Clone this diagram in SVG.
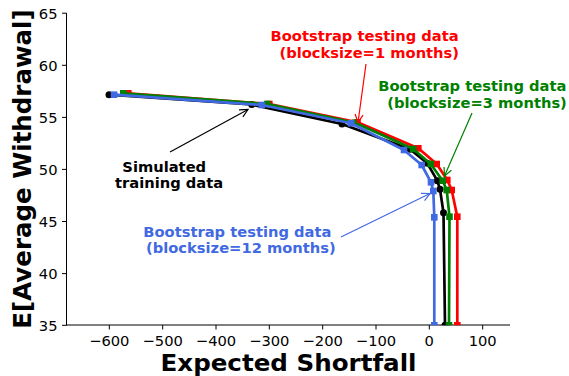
<svg xmlns="http://www.w3.org/2000/svg" width="569" height="376" viewBox="0 0 569 376">
<style>
text{font-family:"DejaVu Sans","Liberation Sans",sans-serif}
.tick{font-size:14.7px;fill:#000}
.lab{font-size:24.5px;font-weight:bold;fill:#000}
.ann{font-size:14.7px;font-weight:bold}
.ln{fill:none;stroke-width:2.7;stroke-linejoin:round}
.tk{stroke:#000;stroke-width:1}
.ar{fill:none;stroke-width:1.2}
</style>
<defs>
<clipPath id="plot"><rect x="66.5" y="13" width="444" height="312.3"/></clipPath>
<marker id="ahk" markerUnits="userSpaceOnUse" markerWidth="20" markerHeight="20" viewBox="-10 -10 20 20" refX="0" refY="0" orient="auto"><path d="M-8,-4 L0,0 L-8,4" fill="none" stroke="#000" stroke-width="1.2"/></marker>
<marker id="ahr" markerUnits="userSpaceOnUse" markerWidth="20" markerHeight="20" viewBox="-10 -10 20 20" refX="0" refY="0" orient="auto"><path d="M-8,-4 L0,0 L-8,4" fill="none" stroke="#ff0000" stroke-width="1.2"/></marker>
<marker id="ahg" markerUnits="userSpaceOnUse" markerWidth="20" markerHeight="20" viewBox="-10 -10 20 20" refX="0" refY="0" orient="auto"><path d="M-8,-4 L0,0 L-8,4" fill="none" stroke="#008000" stroke-width="1.2"/></marker>
<marker id="ahb" markerUnits="userSpaceOnUse" markerWidth="20" markerHeight="20" viewBox="-10 -10 20 20" refX="0" refY="0" orient="auto"><path d="M-8,-4 L0,0 L-8,4" fill="none" stroke="#4169e1" stroke-width="1.2"/></marker>
<rect id="sq" x="-3.3" y="-3.3" width="6.6" height="6.6"/>
</defs>
<rect width="569" height="376" fill="#fff"/>
<g id="axes">
<line class="tk" x1="66.5" y1="13" x2="66.5" y2="325.3"/>
<line class="tk" x1="66" y1="325" x2="510" y2="325"/>
<g class="tk">
<line x1="109.3" y1="325" x2="109.3" y2="329.5"/><line x1="162.7" y1="325" x2="162.7" y2="329.5"/><line x1="216" y1="325" x2="216" y2="329.5"/><line x1="269.3" y1="325" x2="269.3" y2="329.5"/><line x1="322.7" y1="325" x2="322.7" y2="329.5"/><line x1="376" y1="325" x2="376" y2="329.5"/><line x1="429.3" y1="325" x2="429.3" y2="329.5"/><line x1="482.7" y1="325" x2="482.7" y2="329.5"/>
<line x1="62" y1="13.2" x2="66.5" y2="13.2"/><line x1="62" y1="65.3" x2="66.5" y2="65.3"/><line x1="62" y1="117.4" x2="66.5" y2="117.4"/><line x1="62" y1="169.4" x2="66.5" y2="169.4"/><line x1="62" y1="221.5" x2="66.5" y2="221.5"/><line x1="62" y1="273.6" x2="66.5" y2="273.6"/><line x1="62" y1="325.3" x2="66.5" y2="325.3"/>
</g>
<g class="tick" text-anchor="middle">
<text x="109.3" y="345.6">−600</text><text x="162.7" y="345.6">−500</text><text x="216" y="345.6">−400</text><text x="269.3" y="345.6">−300</text><text x="322.7" y="345.6">−200</text><text x="376" y="345.6">−100</text><text x="429.3" y="345.6">0</text><text x="482.7" y="345.6">100</text>
</g>
<g class="tick" text-anchor="end">
<text x="57.5" y="18.6">65</text><text x="57.5" y="70.7">60</text><text x="57.5" y="122.8">55</text><text x="57.5" y="174.8">50</text><text x="57.5" y="226.9">45</text><text x="57.5" y="279">40</text><text x="57.5" y="330.7">35</text>
</g>
<text class="lab" x="160.5" y="370.5" style="font-size:23px" textLength="256" lengthAdjust="spacingAndGlyphs">Expected Shortfall</text>
<text class="lab" text-anchor="middle" transform="translate(31,169) rotate(-90)">E[Average Withdrawal]</text>
</g>
<g id="connectors" clip-path="url(#plot)">
<g id="curve-training">
<polyline class="ln" stroke="#000" points="109,94.7 251.7,104.5 342,124 410,149.3 427.3,163.3 437.3,180.7 440,189.3 443.5,212.7 445,325.3"/>
<g fill="#000"><circle cx="109" cy="94.7" r="3.5"/><circle cx="251.7" cy="104.5" r="3.5"/><circle cx="342" cy="124" r="3.5"/><circle cx="410" cy="149.3" r="3.5"/><circle cx="427.3" cy="163.3" r="3.5"/><circle cx="437.3" cy="180.7" r="3.5"/><circle cx="440" cy="189.3" r="3.5"/><circle cx="443.5" cy="212.7" r="3.5"/><circle cx="445" cy="325.3" r="3.5"/></g>
</g>
<g id="curve-bs1">
<polyline class="ln" stroke="#ff0000" points="128.3,93.3 269.3,104 357.5,122.3 418.3,148.3 436.7,164 447.3,180 451.7,190 457.3,216.7 457.3,325.3"/>
<g fill="#ff0000"><use href="#sq" x="128.3" y="93.3"/><use href="#sq" x="269.3" y="104"/><use href="#sq" x="357.5" y="122.3"/><use href="#sq" x="418.3" y="148.3"/><use href="#sq" x="436.7" y="164"/><use href="#sq" x="447.3" y="180"/><use href="#sq" x="451.7" y="190"/><use href="#sq" x="457.3" y="216.7"/><use href="#sq" x="457.3" y="325.3"/></g>
</g>
<g id="curve-bs3">
<polyline class="ln" stroke="#008000" points="123.3,93.3 267.3,104 355,122.7 413.3,149 430.7,164 442.7,180.7 446.7,190 449.5,216.7 449,325.3"/>
<g fill="#008000"><use href="#sq" x="123.3" y="93.3"/><use href="#sq" x="267.3" y="104"/><use href="#sq" x="355" y="122.7"/><use href="#sq" x="413.3" y="149"/><use href="#sq" x="430.7" y="164"/><use href="#sq" x="442.7" y="180.7"/><use href="#sq" x="446.7" y="190"/><use href="#sq" x="449.5" y="216.7"/><use href="#sq" x="449" y="325.3"/></g>
</g>
<g id="curve-bs12">
<polyline class="ln" stroke="#4169e1" points="114,94.7 261.7,105 351,123.3 404,150 421.7,165 431,182.3 433.3,191 434.3,217.3 434.3,325.3"/>
<g fill="#4169e1"><use href="#sq" x="114" y="94.7"/><use href="#sq" x="261.7" y="105"/><use href="#sq" x="351" y="123.3"/><use href="#sq" x="404" y="150"/><use href="#sq" x="421.7" y="165"/><use href="#sq" x="431" y="182.3"/><use href="#sq" x="433.3" y="191"/><use href="#sq" x="434.3" y="217.3"/><use href="#sq" x="434.3" y="325.3"/></g>
</g>
</g>
<g id="arrows">
<line class="ar" stroke="#000" x1="170" y1="152" x2="248" y2="109.5" marker-end="url(#ahk)"/>
<line class="ar" stroke="#ff0000" x1="366" y1="64" x2="358" y2="122.5" marker-end="url(#ahr)"/>
<line class="ar" stroke="#008000" x1="472" y1="113" x2="444.5" y2="176" marker-end="url(#ahg)"/>
<line class="ar" stroke="#4169e1" x1="341" y1="237" x2="430" y2="193.5" marker-end="url(#ahb)"/>
</g>
<g id="label-training" class="ann" fill="#000">
<text x="122.3" y="171.7">Simulated</text>
<text x="115" y="187.7">training data</text>
</g>
<g id="label-bs1" class="ann" fill="#ff0000">
<text x="270.5" y="40.7">Bootstrap testing data</text>
<text x="279.5" y="58">(blocksize=1 months)</text>
</g>
<g id="label-bs3" class="ann" fill="#008000">
<text x="378.3" y="91">Bootstrap testing data</text>
<text x="387.3" y="108.3">(blocksize=3 months)</text>
</g>
<g id="label-bs12" class="ann" fill="#4169e1">
<text x="143.3" y="236.7">Bootstrap testing data</text>
<text x="146" y="253">(blocksize=12 months)</text>
</g>
</svg>
